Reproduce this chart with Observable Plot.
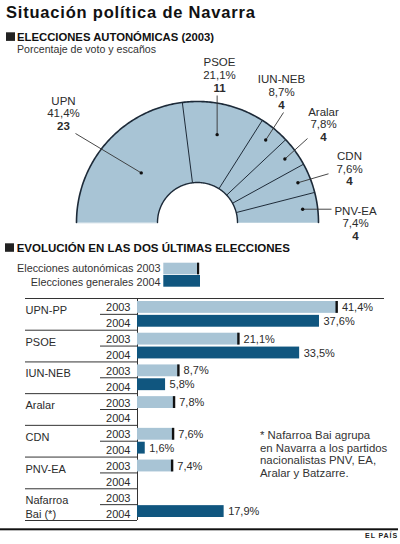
<!DOCTYPE html>
<html><head><meta charset="utf-8">
<script src="https://cdn.jsdelivr.net/npm/d3@7"></script>
<script src="https://cdn.jsdelivr.net/npm/@observablehq/plot@0.6"></script>
<style>
html,body{margin:0;padding:0;background:#fff;}
#root{position:relative;width:400px;height:544px;overflow:hidden;font-family:"Liberation Sans",Arial,Helvetica,sans-serif;}
#root > svg{position:absolute;left:0;margin:0;}
</style></head><body><div id="root"></div>
<script>
// ---------- DATA ----------
const seatParties = ["UPN","PSOE","IUN-NEB","Aralar","CDN","PNV-EA"];
const seats = [23,11,4,4,4,4];
const votePct = [41.4,21.1,8.7,7.8,7.6,7.4];

const parties = ["UPN-PP","PSOE","IUN-NEB","Aralar","CDN","PNV-EA","Nafarroa\nBai (*)"];
const pct2003 = [41.4,21.1,8.7,7.8,7.6,7.4,null];
const pct2004 = [37.6,33.5,5.8,null,1.6,null,17.9];
const years = ["2003","2004"];
const legendLabels = ["Elecciones autonómicas 2003","Elecciones generales 2004"];
const footnote = ["* Nafarroa Bai agrupa","en Navarra a los partidos","nacionalistas PNV, EA,","Aralar y Batzarre."];

// ---------- STYLE ----------
const LIGHT="#a8c4d5", DARK="#10567f", INK="#1d2a38", TXT="#2b2b2b";
const FONT = '"Liberation Sans", Arial, Helvetica, sans-serif';
const fmt = v => v.toFixed(1).replace(".", ",") + "%";
const root = document.getElementById("root");

// ---------- HEMICYCLE ----------
const R = 121, R0 = 40;
const totalSeats = d3.sum(seats);
let acc = 0;
const slices = seatParties.map((p,i) => {
  const a0 = Math.PI*(1 - acc/totalSeats); acc += seats[i];
  const a1 = Math.PI*(1 - acc/totalSeats);
  return {party:p, seats:seats[i], pct:votePct[i], a0, a1, mid:(a0+a1)/2};
});
const arc = (rad, a, b, n) => d3.range(n+1).map(k => {const t = a+(b-a)*k/n; return {x: rad*Math.cos(t), y: rad*Math.sin(t)};});
const polys = slices.flatMap(s => {
  const n = Math.max(6, Math.ceil((s.a0-s.a1)*80));
  return [...arc(R, s.a0, s.a1, n), ...arc(R0, s.a1, s.a0, n)].map(pt => ({...pt, party:s.party}));
});
const borders = slices.slice(1).map(s => s.a0);
// label placement (layout): label anchor, leader start, dot radius
const layout = [
  {lx:-134, ly:118,   sx:-122, sy:89,   rd:75},
  {lx:22,   ly:156.3, sx:null, sy:127,  rd:90},
  {lx:84,   ly:139.3, sx:86,   sy:110,  rd:107},
  {lx:126,  ly:107,   sx:110,  sy:84,   rd:108},
  {lx:152,  ly:62.7,  sx:131,  sy:48.7, rd:108},
  {lx:158,  ly:8,     sx:134,  sy:null, rd:106}
];
const ann = slices.map((s,i) => {
  const L = layout[i];
  const dx = L.rd*Math.cos(s.mid), dy = L.rd*Math.sin(s.mid);
  return {...s, ...L, dx, dy, sx: L.sx ?? dx, sy: L.sy ?? dy};
});
const LH = 12.7;

const hemi = Plot.plot({
  width:400, height:200, margin:0,
  x:{domain:[-197,203], range:[0,400], axis:null},
  y:{domain:[-28,172], range:[200,0], axis:null},
  style:{fontFamily:FONT, background:"transparent", color:TXT, overflow:"visible"},
  marks:[
    Plot.line(polys, {x:"x", y:"y", z:"party", fill:LIGHT, stroke:LIGHT, strokeWidth:0.5, curve:"linear-closed"}),
    Plot.link(borders, {x1:a=>R0*Math.cos(a), y1:a=>R0*Math.sin(a), x2:a=>R*Math.cos(a), y2:a=>R*Math.sin(a), stroke:INK, strokeWidth:1}),
    Plot.line(arc(R, Math.PI, 0, 240), {x:"x", y:"y", stroke:INK, strokeWidth:1.6}),
    Plot.line(arc(R0, Math.PI, 0, 120), {x:"x", y:"y", stroke:INK, strokeWidth:1.4}),
    Plot.link(ann, {x1:"sx", y1:"sy", x2:"dx", y2:"dy", stroke:"#333", strokeWidth:0.9}),
    Plot.dot(ann, {x:"dx", y:"dy", r:1.7, fill:"#111"}),
    Plot.text(ann, {x:"lx", y:"ly", text:"party", lineAnchor:"bottom", fontSize:11.5}),
    Plot.text(ann, {x:"lx", y:d=>d.ly-LH, text:d=>fmt(d.pct), lineAnchor:"bottom", fontSize:11.5}),
    Plot.text(ann, {x:"lx", y:d=>d.ly-2*LH, text:d=>String(d.seats), lineAnchor:"bottom", fontSize:11.5, fontWeight:"bold"})
  ]
});
hemi.style.top = "50px";
root.appendChild(hemi);

// ---------- BARS ----------
const rows = parties.flatMap((p,i) => years.map((yr,j) => ({party:p, year:yr, group:i, row:2*i+j, value:(j ? pct2004 : pct2003)[i]})));
const withVal = rows.filter(d => d.value != null);
const r03 = withVal.filter(d => d.year === years[0]);
const r04 = withVal.filter(d => d.year === years[1]);
const ML = 137, MR = 21, XMAX = 50;
const pxX = px => (px - ML) * XMAX / (400 - ML - MR);
const groups = parties.map((p,i) => ({p, i}));

const bars = Plot.plot({
  width:400, height:235, marginLeft:ML, marginRight:MR, marginTop:0, marginBottom:0,
  x:{domain:[0,XMAX], axis:null},
  y:{domain:[0,rows.length], range:[8,230], axis:null},
  style:{fontFamily:FONT, background:"transparent", color:TXT, overflow:"visible"},
  marks:[
    Plot.ruleY([0], {x1:pxX(25), x2:pxX(384), stroke:"#333"}),
    Plot.ruleY(d3.range(1, parties.length+1).map(k => 2*k), {x1:pxX(25), x2:0, stroke:"#333"}),
    Plot.ruleY(d3.range(parties.length).map(k => 2*k+1), {x1:pxX(100), x2:0, stroke:"#333"}),
    Plot.ruleX([0], {y1:0, y2:rows.length, stroke:"#333"}),
    Plot.rect(r03, {x1:0, x2:"value", y1:"row", y2:d=>d.row+1, fill:LIGHT, insetTop:3, insetBottom:1}),
    Plot.rect(r04, {x1:0, x2:"value", y1:"row", y2:d=>d.row+1, fill:DARK, insetTop:1, insetBottom:3}),
    Plot.ruleX(r03, {x:"value", y1:"row", y2:d=>d.row+1, insetTop:3, insetBottom:1, stroke:"#111", strokeWidth:2.4, dx:-1.2}),
    Plot.text(r03, {x:"value", y:d=>d.row+0.5, text:d=>fmt(d.value), textAnchor:"start", dx:4, dy:1, fontSize:11}),
    Plot.text(r04, {x:"value", y:d=>d.row+0.5, text:d=>fmt(d.value), textAnchor:"start", dx:4, dy:-1, fontSize:11}),
    Plot.text(rows, {y:d=>d.row+0.5, text:"year", frameAnchor:"left", textAnchor:"end", dx:-7, dy:1.5, fontSize:11}),
    Plot.text(groups, {y:d=>2*d.i, text:"p", frameAnchor:"left", textAnchor:"start", lineAnchor:"top", dx:-112, dy:6, fontSize:11, lineHeight:1.21})
  ]
});
bars.style.top = "290px";
root.appendChild(bars);

// ---------- TITLES, LEGEND, NOTES ----------
const ov = d3.select(root).append("svg")
  .attr("width",400).attr("height",544)
  .style("position","absolute").style("left","0").style("top","0")
  .style("pointer-events","none").style("font-family",FONT);
function T(x, y, s, o = {}) {
  return ov.append("text").attr("x",x).attr("y",y).text(s)
    .attr("font-size", o.size || 11).attr("font-weight", o.bold ? "bold" : "normal")
    .attr("fill", o.fill || TXT).attr("text-anchor", o.anchor || "start")
    .attr("letter-spacing", o.ls || 0);
}
T(6, 18.3, "Situación política de Navarra", {size:16.5, bold:true, fill:"#111", ls:0.8});
ov.append("rect").attr("x",6).attr("y",32.3).attr("width",9).attr("height",8.6).attr("fill","#222");
T(17, 40.7, "ELECCIONES AUTONÓMICAS (2003)", {size:11.3, bold:true, fill:"#111"});
T(17, 52.7, "Porcentaje de voto y escaños", {size:10.6, fill:"#333"});
ov.append("rect").attr("x",5).attr("y",243.3).attr("width",9).attr("height",8.5).attr("fill","#222");
T(16.7, 251.7, "EVOLUCIÓN EN LAS DOS ÚLTIMAS ELECCIONES", {size:11.5, bold:true, fill:"#111"});
// legend
T(160.5, 272, legendLabels[0], {size:10.8, anchor:"end", fill:"#333"});
T(160.5, 285.7, legendLabels[1], {size:10.8, anchor:"end", fill:"#333"});
ov.append("rect").attr("x",163.3).attr("y",262.7).attr("width",35.7).attr("height",11.6).attr("fill",LIGHT);
ov.append("rect").attr("x",197).attr("y",262.7).attr("width",2.2).attr("height",11.6).attr("fill","#111");
ov.append("rect").attr("x",163.3).attr("y",275).attr("width",36.7).attr("height",11.7).attr("fill",DARK);
// footnote
footnote.forEach((l,i) => T(260, 439 + i*12.7, l, {size:11.4, fill:"#333"}));
// bottom rule and credit
ov.append("rect").attr("x",0).attr("y",528.3).attr("width",398).attr("height",2).attr("fill","#111");
T(398, 537.6, "EL PAÍS", {size:7, bold:true, anchor:"end", fill:"#222", ls:0.9});
</script></body></html>
